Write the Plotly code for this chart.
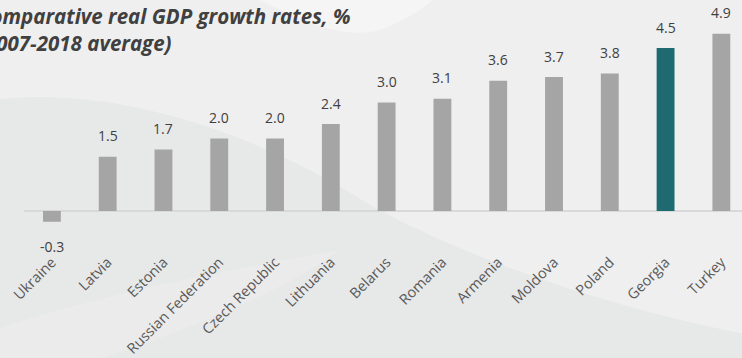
import plotly.graph_objects as go

# Comparative real GDP growth rates, % (2007-2018 average)
countries = ["Ukraine", "Latvia", "Estonia", "Russian Federation", "Czech Republic",
             "Lithuania", "Belarus", "Romania", "Armenia", "Moldova", "Poland",
             "Georgia", "Turkey"]
growth = [-0.3, 1.5, 1.7, 2.0, 2.0, 2.4, 3.0, 3.1, 3.6, 3.7, 3.8, 4.5, 4.9]
highlight = "Georgia"

GREY = "#a5a5a5"
TEAL = "#1f6a70"
TEXT = "#404040"
FONT = "Open Sans"

W, H = 742, 358
M_L, M_B = 24, 108
PLOT_W, PLOT_H = W - M_L, H - M_B


def px(x, y):
    """pixel position -> paper coords (for background decoration only)"""
    return f"{(x - M_L) / PLOT_W:.4f} {(PLOT_H - y) / PLOT_H:.4f}"


bar_colors = [TEAL if c == highlight else GREY for c in countries]

fig = go.Figure()
fig.add_trace(go.Bar(
    x=countries,
    y=growth,
    marker=dict(color=bar_colors, line=dict(width=0)),
    width=0.32,
    hoverinfo="x+y",
))

# value labels above / below the bars
for c, v in zip(countries, growth):
    fig.add_annotation(
        x=c, y=v, text=f"{v:.1f}", showarrow=False,
        yshift=21 if v >= 0 else -25, yanchor="middle",
        font=dict(family=FONT, size=14, color=TEXT),
    )

# title (cropped at the left edge, as in the source)
fig.add_annotation(
    xref="paper", yref="paper", x=0, y=1, xanchor="left", yanchor="top",
    xshift=-48, yshift=0, align="left", showarrow=False,
    text="<b><i>Comparative real GDP growth rates, %<br>(2007-2018 average)</i></b>",
    font=dict(family=FONT, size=20.5, color=TEXT),
)

# soft background swooshes
fig.add_shape(
    type="path", xref="paper", yref="paper", layer="below",
    path=(f"M {px(-5, 100)} C {px(80, 88)}, {px(220, 110)}, {px(370, 205)} "
          f"C {px(480, 265)}, {px(620, 310)}, {px(750, 335)} "
          f"L {px(750, 365)} L {px(-5, 365)} Z"),
    fillcolor="#e7e8e8", line=dict(width=0),
)
fig.add_shape(
    type="path", xref="paper", yref="paper", layer="below",
    path=(f"M {px(-5, 330)} C {px(80, 300)}, {px(200, 275)}, {px(340, 250)} "
          f"C {px(270, 300)}, {px(160, 340)}, {px(80, 365)} L {px(-5, 365)} Z"),
    fillcolor="#ebebeb", line=dict(width=0),
)
fig.add_shape(
    type="path", xref="paper", yref="paper", layer="below",
    path=(f"M {px(250, -5)} C {px(300, 20)}, {px(340, 40)}, {px(380, 30)} "
          f"C {px(420, 15)}, {px(430, 0)}, {px(440, -5)} Z"),
    fillcolor="#f5f5f5", line=dict(width=0),
)

fig.update_layout(
    width=W, height=H,
    margin=dict(l=M_L, r=0, t=0, b=M_B),
    paper_bgcolor="#efefef",
    plot_bgcolor="rgba(0,0,0,0)",
    showlegend=False,
    bargap=0.68,
    font=dict(family=FONT, color=TEXT),
    xaxis=dict(
        range=[-0.5, 12.37],
        tickangle=-45,
        tickfont=dict(family=FONT, size=14.5, color="#595959"),
        showgrid=False, showline=False, ticks="",
        fixedrange=True,
    ),
    yaxis=dict(
        range=[-1.08, 5.83],
        visible=True, showticklabels=False, showgrid=False,
        zeroline=True, zerolinecolor="#d9d9d9", zerolinewidth=2,
        fixedrange=True,
    ),
)

fig.write_html(
    "out.html",
    config={"displayModeBar": False},
    post_script="document.body.style.margin='0';document.body.style.overflow='hidden';",
)
